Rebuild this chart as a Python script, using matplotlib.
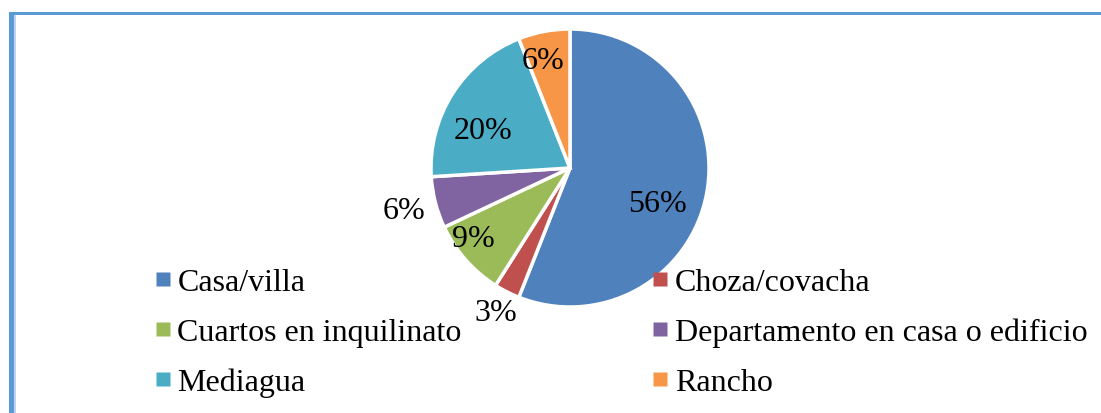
import matplotlib.pyplot as plt
from matplotlib.lines import Line2D
from matplotlib.patches import Rectangle
import numpy as np

labels = ["Casa/villa", "Choza/covacha", "Cuartos en inquilinato",
          "Departamento en casa o edificio", "Mediagua", "Rancho"]
values = [56, 3, 9, 6, 20, 6]
colors = ["#4F81BD", "#C0504D", "#9BBB59", "#8064A2", "#4BACC6", "#F79646"]

# label placement (distance from centre as fraction of radius, angle tweak in degrees)
label_dist = [0.68, 1.17, 0.86, 1.235, 0.68, 0.80]
label_shift = [-11, 0, -5, 0, 9, 3]

plt.rcParams["font.family"] = ["Liberation Serif", "DejaVu Serif"]
FS = 23

W, H = 1101, 414
fig = plt.figure(figsize=(W / 100, H / 100), dpi=100)

# blue frame (right and bottom edges fall outside the picture)
fig.add_artist(Rectangle((9 / W, 0), 5 / W, (H - 13) / H, transform=fig.transFigure,
                         facecolor="#5B9BD5", edgecolor="none"))
fig.add_artist(Rectangle((14 / W, 0), 1.5 / W, (H - 16) / H, transform=fig.transFigure,
                         facecolor="#BDD3EE", edgecolor="none"))
fig.add_artist(Rectangle((9 / W, (H - 16) / H), (W - 9) / W, 3 / H, transform=fig.transFigure,
                         facecolor="#5B9BD5", edgecolor="none"))

cx, cy, r = 570, 169, 139
ax = fig.add_axes([(cx - r) / W, (H - cy - r) / H, 2 * r / W, 2 * r / H])
wedges, _ = ax.pie(values, colors=colors, startangle=90, counterclock=False, radius=1,
                   wedgeprops=dict(edgecolor="white", linewidth=2.5))
ax.set_xlim(-1, 1)
ax.set_ylim(-1, 1)
ax.set_aspect("equal")
ax.axis("off")

for w, v, d, s in zip(wedges, values, label_dist, label_shift):
    ang = np.deg2rad((w.theta1 + w.theta2) / 2 + s)
    ax.text(d * np.cos(ang), d * np.sin(ang), f"{v}%", ha="center", va="center",
            fontsize=FS, color="black")

handles = [Line2D([], [], linestyle="none", marker="s", markersize=9.5,
                  markerfacecolor=c, markeredgecolor="none") for c in colors]
order = [0, 2, 4, 1, 3, 5]
fig.legend([handles[i] for i in order], [labels[i] for i in order], ncol=2,
           loc="upper left", bbox_to_anchor=(156 / W, 1 - 269 / H), frameon=False,
           fontsize=FS, handlelength=0.42, handletextpad=0.25, columnspacing=6.0,
           labelspacing=0.64, borderpad=0, borderaxespad=0)

fig.savefig("out.png", dpi=100)
